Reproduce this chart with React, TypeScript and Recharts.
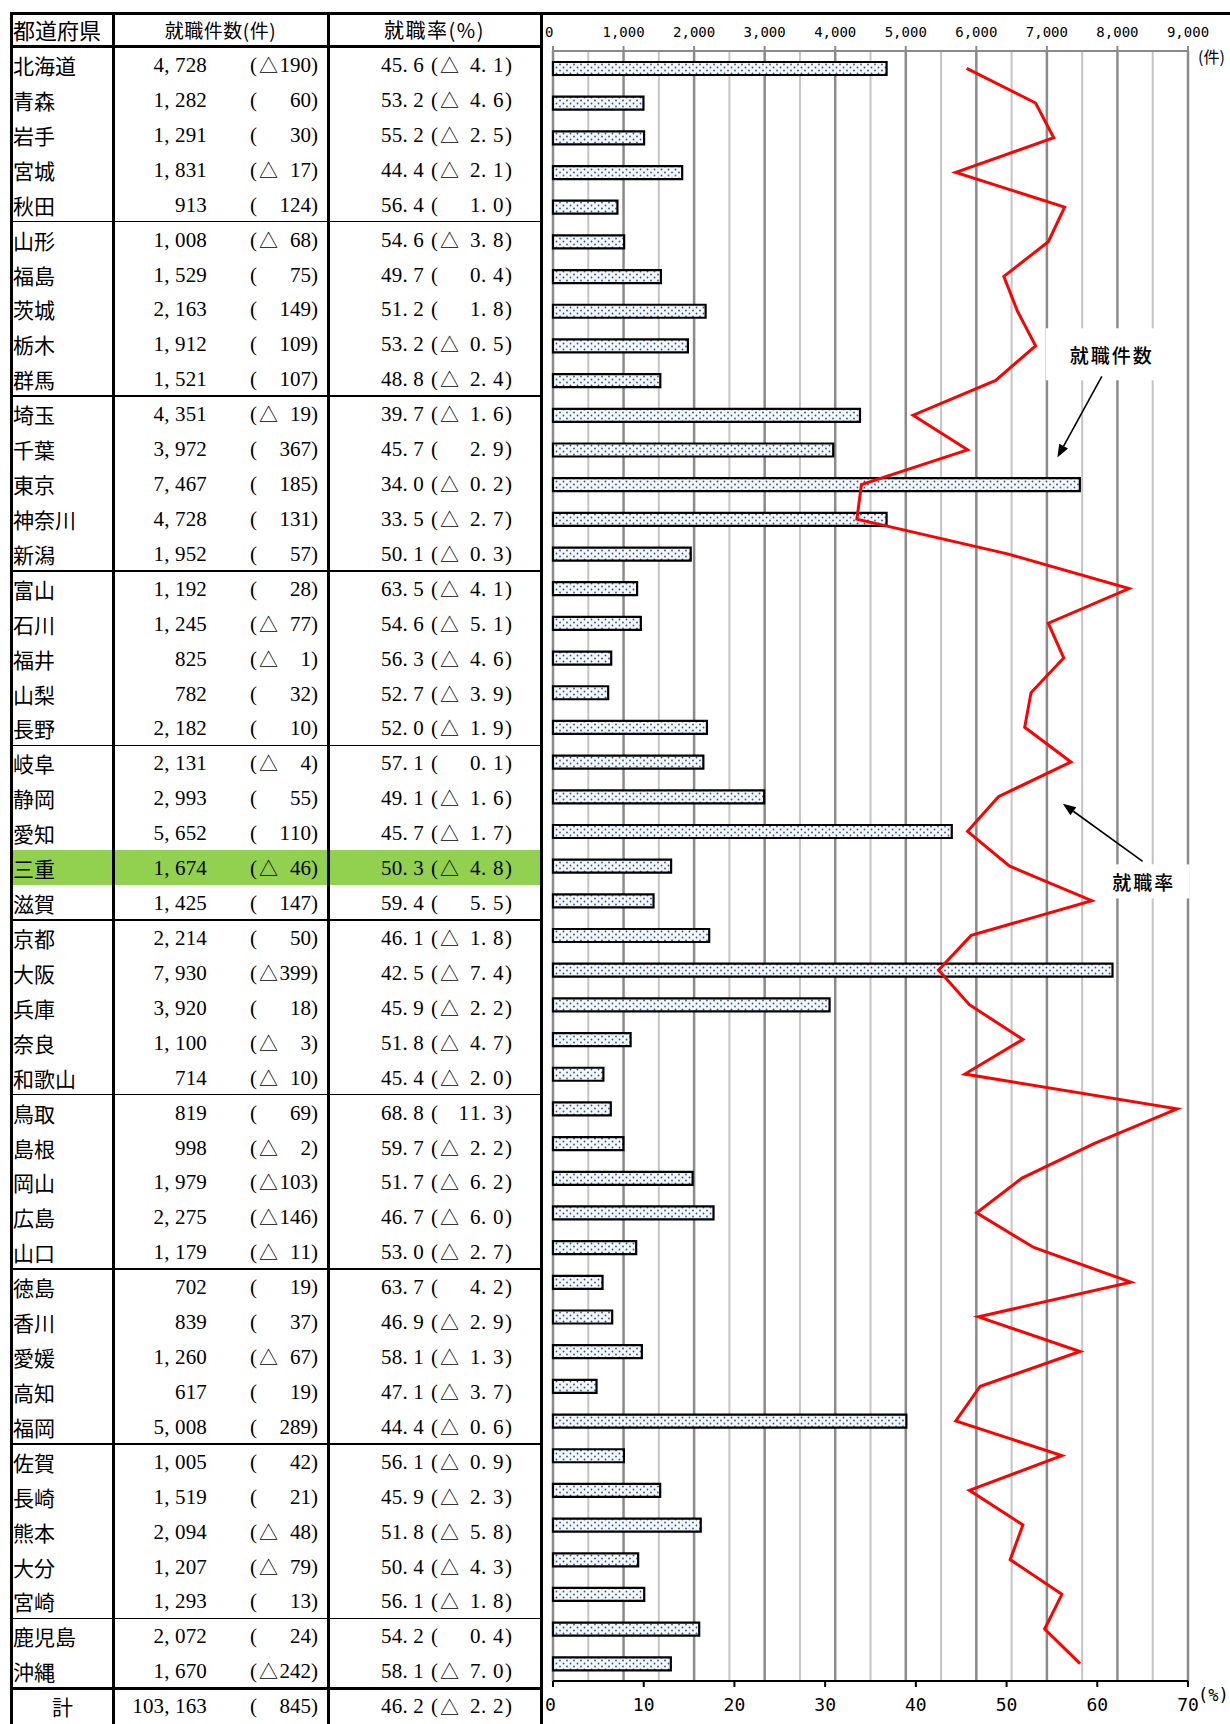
import React from "react";
import { ComposedChart, Bar, Line, XAxis, YAxis, CartesianGrid, ReferenceLine } from "recharts";

const prefectures = [
  "北海道", "青森", "岩手", "宮城", "秋田",
  "山形", "福島", "茨城", "栃木", "群馬",
  "埼玉", "千葉", "東京", "神奈川", "新潟",
  "富山", "石川", "福井", "山梨", "長野",
  "岐阜", "静岡", "愛知", "三重", "滋賀",
  "京都", "大阪", "兵庫", "奈良", "和歌山",
  "鳥取", "島根", "岡山", "広島", "山口",
  "徳島", "香川", "愛媛", "高知", "福岡",
  "佐賀", "長崎", "熊本", "大分", "宮崎",
  "鹿児島", "沖縄",
];
const jobCounts = [
  4728, 1282, 1291, 1831, 913,
  1008, 1529, 2163, 1912, 1521,
  4351, 3972, 7467, 4728, 1952,
  1192, 1245, 825, 782, 2182,
  2131, 2993, 5652, 1674, 1425,
  2214, 7930, 3920, 1100, 714,
  819, 998, 1979, 2275, 1179,
  702, 839, 1260, 617, 5008,
  1005, 1519, 2094, 1207, 1293,
  2072, 1670,
];
// negative = △
const jobCountChanges = [
  -190, 60, 30, -17, 124,
  -68, 75, 149, 109, 107,
  -19, 367, 185, 131, 57,
  28, -77, -1, 32, 10,
  -4, 55, 110, -46, 147,
  50, -399, 18, -3, -10,
  69, -2, -103, -146, -11,
  19, 37, -67, 19, 289,
  42, 21, -48, -79, 13,
  24, -242,
];
const jobRates = [
  45.6, 53.2, 55.2, 44.4, 56.4,
  54.6, 49.7, 51.2, 53.2, 48.8,
  39.7, 45.7, 34.0, 33.5, 50.1,
  63.5, 54.6, 56.3, 52.7, 52.0,
  57.1, 49.1, 45.7, 50.3, 59.4,
  46.1, 42.5, 45.9, 51.8, 45.4,
  68.8, 59.7, 51.7, 46.7, 53.0,
  63.7, 46.9, 58.1, 47.1, 44.4,
  56.1, 45.9, 51.8, 50.4, 56.1,
  54.2, 58.1,
];
const jobRateChanges = [
  -4.1, -4.6, -2.5, -2.1, 1.0,
  -3.8, 0.4, 1.8, -0.5, -2.4,
  -1.6, 2.9, -0.2, -2.7, -0.3,
  -4.1, -5.1, -4.6, -3.9, -1.9,
  0.1, -1.6, -1.7, -4.8, 5.5,
  -1.8, -7.4, -2.2, -4.7, -2.0,
  11.3, -2.2, -6.2, -6.0, -2.7,
  4.2, -2.9, -1.3, -3.7, -0.6,
  -0.9, -2.3, -5.8, -4.3, -1.8,
  0.4, -7.0,
];
const totalLabel = "計";
const totalCount = 103163;
const totalCountChange = 845;
const totalRate = 46.2;
const totalRateChange = -2.2;

const countTicks = [0, 500, 1000, 1500, 2000, 2500, 3000, 3500, 4000, 4500, 5000, 5500, 6000, 6500, 7000, 7500, 8000, 8500, 9000];
const rateTicks = [0, 10, 20, 30, 40, 50, 60, 70];
const highlightedPref = "三重";

const rows = prefectures.map((name, i) => ({ name, count: jobCounts[i], rate: jobRates[i] }));

const JP = "'Noto Sans CJK JP', 'Noto Sans', sans-serif";
const NUM = "'Liberation Serif', 'Noto Sans CJK JP', serif";
const MONO = "'DejaVu Sans Mono', monospace";

const ROW_TOP = 47;
const ROW_H = 34.92;
const TABLE_R = 541;

// fixed-pitch digits, like the Mincho half-width figures
function Cells({ text, cell, right, style }: any) {
  const chars = String(text).split("");
  const w = chars.length * cell;
  return (
    <div style={{ ...style, left: right - w, width: w }}>
      {chars.map((c: string, i: number) => (
        <span key={i} style={{ display: "inline-block", width: cell, textAlign: c === "," || c === "." ? "left" : "center" }}>{c}</span>
      ))}
    </div>
  );
}

function TableRow({ top, height, name, count, countChange, rate, rateChange, highlight, center }: any) {
  const base: React.CSSProperties = { position: "absolute", top: 1, height, lineHeight: `${height}px`, whiteSpace: "nowrap", color: "#000" };
  const num: React.CSSProperties = { ...base, fontFamily: NUM, fontSize: 21 };
  const tri: React.CSSProperties = { ...base, fontFamily: JP, fontSize: 19 };
  return (
    <div style={{ position: "absolute", left: 0, top, width: TABLE_R, height }}>
      {highlight && <div style={{ position: "absolute", left: 12, top: 0, width: TABLE_R - 12, height, background: "#92D050" }} />}
      <div style={{ ...base, left: center ? 12 : 13, width: center ? 101 : undefined, textAlign: center ? "center" : "left", fontFamily: JP, fontSize: 21 }}>{name}</div>
      <Cells text={count.toLocaleString("en-US")} cell={10.7} right={207} style={num} />
      <div style={{ ...num, left: 250 }}>(</div>
      {countChange < 0 && <div style={{ ...tri, left: 259 }}>△</div>}
      <Cells text={Math.abs(countChange)} cell={10.5} right={311} style={num} />
      <div style={{ ...num, left: 311 }}>)</div>
      <Cells text={rate.toFixed(1)} cell={10.8} right={424} style={num} />
      <div style={{ ...num, left: 431 }}>(</div>
      {rateChange < 0 && <div style={{ ...tri, left: 440 }}>△</div>}
      <Cells text={Math.abs(rateChange).toFixed(1)} cell={11.5} right={504} style={num} />
      <div style={{ ...num, left: 505 }}>)</div>
    </div>
  );
}

const TopTick = ({ x, y, payload }: any) => {
  if (payload.value % 1000 !== 0) return null;
  return (
    <g>
      <line x1={x} x2={x} y1={y - 5} y2={y} stroke="#8a8a8a" strokeWidth={2} />
      <text x={payload.value === 0 ? x - 8 : x} y={y - 14} textAnchor={payload.value === 0 ? "start" : "middle"} fontSize={14} fontFamily={MONO} fill="#000">
        {payload.value.toLocaleString("en-US")}
      </text>
    </g>
  );
};

const BottomTick = ({ x, y, payload }: any) => (
  <g>
    <line x1={x} x2={x} y1={y} y2={y + 6} stroke="#000" strokeWidth={2} />
    <text x={payload.value === 0 ? x - 8 : x} y={y + 30} textAnchor={payload.value === 0 ? "start" : "middle"} fontSize={18} fontFamily={MONO} fill="#000">
      {payload.value}
    </text>
  </g>
);

const GridLine = (props: any) => {
  const major = props.index % 2 === 0;
  return (
    <line x1={props.x1} x2={props.x2} y1={props.y1} y2={props.y2}
      stroke={major ? "#8a8a8a" : "#c4c4c4"} strokeWidth={major ? 2.5 : 2} />
  );
};

const annotations = [
  { label: "就職件数", from: { x: 60.5, y: 9.18 }, to: { x: 55.6, y: 11.47 }, dx: 10, dy: -22, bw: 132, bh: 52 },
  { label: "就職率", from: { x: 65.0, y: 22.87 }, to: { x: 56.2, y: 21.24 }, dx: 1, dy: 20, bw: 92, bh: 34 },
];

const arrowShape = (a: any) => (props: any) => {
  const { x1, y1, x2, y2 } = props;
  const ang = Math.atan2(y2 - y1, x2 - x1);
  const L = 13, Wd = 5;
  const bx = x2 - L * Math.cos(ang);
  const by = y2 - L * Math.sin(ang);
  const p1 = `${bx + Wd * Math.sin(ang)},${by - Wd * Math.cos(ang)}`;
  const p2 = `${bx - Wd * Math.sin(ang)},${by + Wd * Math.cos(ang)}`;
  const tx = x1 + a.dx;
  const ty = y1 + a.dy;
  return (
    <g>
      <rect x={tx - a.bw / 2} y={ty - a.bh / 2} width={a.bw} height={a.bh} fill="#fff" />
      <line x1={x1} y1={y1} x2={bx} y2={by} stroke="#000" strokeWidth={1.6} />
      <polygon points={`${x2},${y2} ${p1} ${p2}`} fill="#000" />
      <text x={tx} y={ty} textAnchor="middle" dominantBaseline="central" fontSize={19} fontWeight={500} letterSpacing={2} fontFamily={JP} fill="#000">
        {a.label}
      </text>
    </g>
  );
};

export default function App() {
  const hLine = (top: number, thick: number, left = 10, right = TABLE_R + 1) => (
    <div style={{ position: "absolute", left, top: top - thick / 2, width: right - left, height: thick, background: "#000" }} />
  );
  const vLine = (x: number, thick = 3) => (
    <div style={{ position: "absolute", left: x - thick / 2, top: 12, width: thick, height: 1724 - 12, background: "#000" }} />
  );
  const totalTop = ROW_TOP + prefectures.length * ROW_H;

  return (
    <div style={{ position: "absolute", left: 0, top: 0, width: 1230, height: 1724, background: "#fff", overflow: "hidden" }}>
      <div style={{ position: "absolute", left: TABLE_R, top: 0 }}>
        <ComposedChart width={689} height={1724} layout="vertical" data={rows} margin={{ top: 21, right: 42, bottom: 13, left: 12 }}>
          <defs>
            <pattern id="dots" patternUnits="userSpaceOnUse" width={7} height={6}>
              <rect width={7} height={6} fill="#f4f8fc" />
              <circle cx={1.5} cy={1.5} r={0.9} fill="#2f5597" />
              <circle cx={5} cy={4.5} r={0.9} fill="#2f5597" />
            </pattern>
          </defs>
          <XAxis xAxisId="count" type="number" orientation="top" domain={[0, 9000]} ticks={countTicks} interval={0}
            height={30} tickSize={0} tickMargin={0} tickLine={false} axisLine={{ stroke: "#8a8a8a", strokeWidth: 2 }} tick={<TopTick />} />
          <XAxis xAxisId="rate" type="number" orientation="bottom" domain={[0, 70]} ticks={rateTicks} interval={0}
            height={30} tickSize={0} tickMargin={0} tickLine={false} axisLine={{ stroke: "#000", strokeWidth: 2 }} tick={<BottomTick />} />
          <YAxis yAxisId="cat" type="category" dataKey="name" hide />
          <YAxis yAxisId="pos" type="number" domain={[0, 47]} hide />
          <CartesianGrid xAxisId="count" yAxisId="cat" horizontal={false} vertical={GridLine} />
          <Bar xAxisId="count" yAxisId="cat" dataKey="count" fill="url(#dots)" stroke="#000" strokeWidth={2.2} barSize={13} isAnimationActive={false} />
          <Line xAxisId="rate" yAxisId="cat" dataKey="rate" stroke="#ff0000" strokeWidth={3} dot={false} activeDot={false} isAnimationActive={false} />
          {annotations.map((a) => (
            <ReferenceLine key={a.label} xAxisId="rate" yAxisId="pos" segment={[a.from, a.to]} shape={arrowShape(a)} />
          ))}
        </ComposedChart>
      </div>

      <div style={{ position: "absolute", left: 1198, top: 44, fontFamily: JP, fontSize: 16, color: "#000" }}>(件)</div>
      <div style={{ position: "absolute", left: 1198, top: 1685, fontFamily: MONO, fontSize: 17, color: "#000" }}>(%)</div>

      {/* header */}
      <div style={{ position: "absolute", left: 13, top: 13, height: 33, lineHeight: "33px", fontFamily: JP, fontSize: 22 }}>都道府県</div>
      <div style={{ position: "absolute", left: 113, width: 215, top: 13, height: 33, lineHeight: "33px", textAlign: "center", fontFamily: JP, fontSize: 19, letterSpacing: 0.5 }}>就職件数(件)</div>
      <div style={{ position: "absolute", left: 328, width: 213, top: 13, height: 33, lineHeight: "33px", textAlign: "center", fontFamily: JP, fontSize: 20, letterSpacing: 1.5 }}>就職率(%)</div>

      {prefectures.map((p, i) => (
        <TableRow key={p} top={ROW_TOP + i * ROW_H} height={ROW_H} name={p} count={jobCounts[i]} countChange={jobCountChanges[i]}
          rate={jobRates[i]} rateChange={jobRateChanges[i]} highlight={p === highlightedPref} />
      ))}
      <TableRow top={totalTop} height={1724 - totalTop} name={totalLabel} count={totalCount} countChange={totalCountChange}
        rate={totalRate} rateChange={totalRateChange} center />

      {/* rules */}
      {hLine(13, 3, 10, 1230)}
      {hLine(46, 3)}
      {prefectures.map((p, i) => (i > 0 && i % 5 === 0 ? <React.Fragment key={"g" + i}>{hLine(ROW_TOP + i * ROW_H, 1.6)}</React.Fragment> : null))}
      {hLine(totalTop, 3)}
      {vLine(11)}
      {vLine(113)}
      {vLine(328)}
      {vLine(TABLE_R)}
    </div>
  );
}
